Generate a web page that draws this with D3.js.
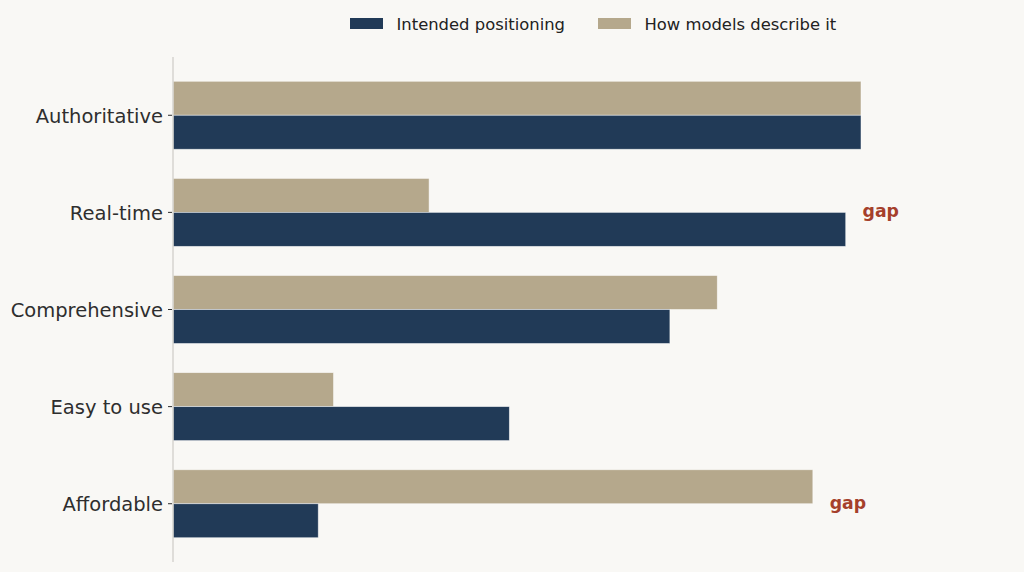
<!DOCTYPE html>
<html>
<head>
<meta charset="utf-8">
<script src="https://cdn.jsdelivr.net/npm/d3@7"></script>
<style>
  html, body { margin: 0; padding: 0; background: #f9f8f5; }
  svg { display: block; font-family: "DejaVu Sans", sans-serif; }
</style>
</head>
<body>
<svg id="chart" width="1024" height="572"></svg>
<script>
// Attribute scores (0-100)
const categories = ['Authoritative', 'Real-time', 'Comprehensive', 'Easy to use', 'Affordable'];
const intended = [90, 88, 65, 44, 19];
const described = [90, 33.5, 71.2, 21, 83.7];
const seriesNames = ['Intended positioning', 'How models describe it'];
const gapThreshold = 30;

const colors = {
    intended: '#213a57',
    described: '#b5a88c',
    gap: '#a5402b',
    text: '#2e2e2e',
    axis: '#d6d4cf'
};

const svg = d3.select('#chart');
const width = 1024, height = 572;

svg.append('rect')
    .attr('width', width)
    .attr('height', height)
    .attr('fill', '#f9f8f5');

// Scales
const x = d3.scaleLinear().domain([0, 90]).range([173, 861]);
const y = d3.scaleLinear().domain([-0.6, categories.length - 0.4]).range([57, 562]);
const barH = y(0.35) - y(0);

const rows = categories.map((c, i) => ({
    name: c,
    i: i,
    intended: intended[i],
    described: described[i]
}));

// Bars: described on top, intended below the category line
const bars = svg.append('g');

bars.selectAll('.described')
    .data(rows)
    .join('rect')
    .attr('class', 'described')
    .attr('x', x(0))
    .attr('y', d => y(d.i) - barH)
    .attr('width', d => x(d.described) - x(0))
    .attr('height', barH)
    .attr('fill', colors.described)
    .attr('stroke', '#ffffff')
    .attr('stroke-opacity', 0.6)
    .attr('stroke-width', 0.8);

bars.selectAll('.intended')
    .data(rows)
    .join('rect')
    .attr('class', 'intended')
    .attr('x', x(0))
    .attr('y', d => y(d.i))
    .attr('width', d => x(d.intended) - x(0))
    .attr('height', barH)
    .attr('fill', colors.intended)
    .attr('stroke', '#ffffff')
    .attr('stroke-opacity', 0.6)
    .attr('stroke-width', 0.8);

// Left axis line + ticks + labels
const axis = svg.append('g');

axis.append('line')
    .attr('x1', x(0)).attr('x2', x(0))
    .attr('y1', y.range()[0]).attr('y2', y.range()[1])
    .attr('stroke', colors.axis)
    .attr('stroke-width', 1.5);

axis.selectAll('.tick')
    .data(rows)
    .join('line')
    .attr('class', 'tick')
    .attr('x1', x(0) - 5).attr('x2', x(0) - 1)
    .attr('y1', d => y(d.i)).attr('y2', d => y(d.i))
    .attr('stroke', colors.text)
    .attr('stroke-width', 1);

axis.selectAll('.label')
    .data(rows)
    .join('text')
    .attr('class', 'label')
    .attr('x', x(0) - 10)
    .attr('y', d => y(d.i) + 7.5)
    .attr('text-anchor', 'end')
    .attr('font-size', '19.5px')
    .attr('fill', colors.text)
    .text(d => d.name);

// "gap" annotations where the two readings disagree strongly
svg.selectAll('.gap')
    .data(rows.filter(d => Math.abs(d.intended - d.described) > gapThreshold))
    .join('text')
    .attr('class', 'gap')
    .attr('x', d => x(Math.max(d.intended, d.described) + 2.2))
    .attr('y', d => y(d.i) + 5)
    .attr('font-size', '17.3px')
    .attr('font-weight', 'bold')
    .attr('fill', colors.gap)
    .text('gap');

// Legend
const legend = svg.append('g');
const legendItems = [
    { name: seriesNames[0], color: colors.intended, x: 350 },
    { name: seriesNames[1], color: colors.described, x: 598 }
];

legend.selectAll('rect')
    .data(legendItems)
    .join('rect')
    .attr('x', d => d.x)
    .attr('y', 18)
    .attr('width', 33)
    .attr('height', 11)
    .attr('fill', d => d.color);

legend.selectAll('text')
    .data(legendItems)
    .join('text')
    .attr('x', d => d.x + 46.5)
    .attr('y', 30)
    .attr('font-size', '16.4px')
    .attr('fill', '#222')
    .text(d => d.name);
</script>
</body>
</html>
